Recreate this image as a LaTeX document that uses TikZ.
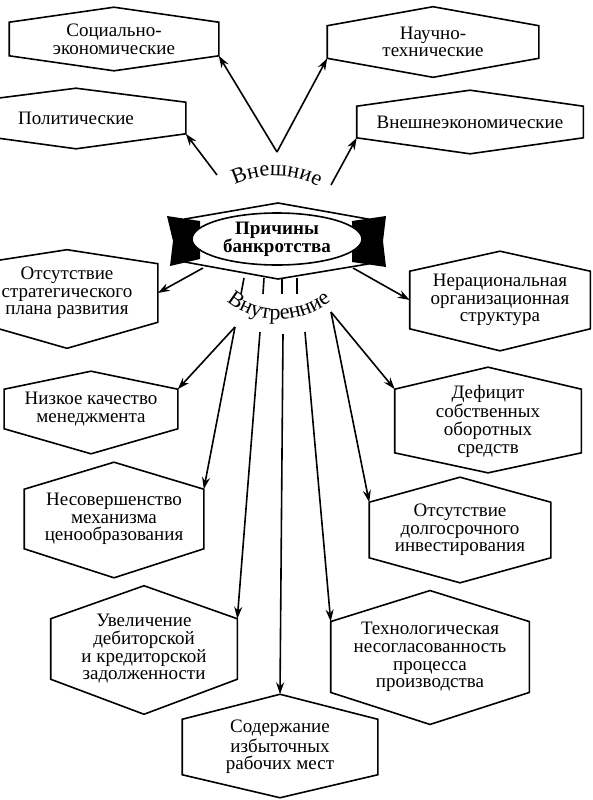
\documentclass[tikz,border=0pt]{standalone}
\usepackage{fontspec}
\setmainfont{Liberation Serif}
\usetikzlibrary{arrows.meta,shapes.geometric,calc,decorations.text}
\tikzset{
  cause/.style={align=center, inner sep=0pt, font=\fontsize{9.5}{8.8}\selectfont},
  >={Stealth[length=6pt,width=4pt]}
}
\begin{document}
\begin{tikzpicture}[x=0.5pt,y=-0.5pt,line width=0.8pt]
\useasboundingbox (0,0) rectangle (593,800);
\node[cause, minimum width=104pt, minimum height=16pt] (soc) at (114,39) {Социально-\\экономические};
\node[cause, minimum width=109pt, minimum height=15pt] (pol) at (76,118) {Политические};
\node[cause, minimum width=105pt, minimum height=15.5pt] (nauch) at (433,42) {Научно-\\технические};
\node[cause, minimum width=112.5pt, minimum height=15pt] (vnesh) at (470,122) {Внешнеэкономические};
\node[cause, minimum width=90pt, minimum height=28.5pt] (strat) at (67,293) {Отсутствие\\стратегического\\плана развития};
\node[cause, minimum width=86pt, minimum height=19pt] (nizk) at (91,409) {Низкое качество\\менеджмента};
\node[cause, minimum width=89pt, minimum height=29pt] (nesov) at (114,519) {Несовершенство\\механизма\\ценообразования};
\node[cause, minimum width=92.5pt, inner ysep=-2.5pt] (uvel) at (144,649) {Увеличение\\дебиторской\\и кредиторской\\задолженности};
\node[cause, minimum width=97pt, minimum height=25pt] (soder) at (280,747) {Содержание\\избыточных\\рабочих мест};
\node[cause, minimum width=89.5pt, minimum height=28pt] (neraz) at (500,300) {Нерациональная\\организационная\\структура};
\node[cause, minimum width=92.5pt, inner ysep=-2.5pt] (defic) at (488,421) {Дефицит\\собственных\\оборотных\\средств};
\node[cause, minimum width=90pt, minimum height=27pt] (dolg) at (460,530) {Отсутствие\\долгосрочного\\инвестирования};
\node[cause, minimum width=98.5pt, minimum height=33.5pt] (tehn) at (430,657) {Технологическая\\несогласованность\\процесса\\производства};
\foreach \n/\pa/\pb in {soc/15/15, pol/14/15, nauch/19/19, vnesh/16/16, strat/14/26, nizk/18/25, nesov/27/29, uvel/33/35, soder/25/23, neraz/20/22, defic/22/20, dolg/25/25, tehn/31/32}
  \draw (\n.south west) -- (\n.north west) -- ($(\n.north)-(0,\pa)$) -- (\n.north east)
    -- (\n.south east) -- ($(\n.south)+(0,\pb)$) -- cycle;

\draw[fill=white] (185,219) -- (278,203) -- (368,219) -- (368,264) -- (278,279) -- (185,262) -- cycle;
\fill (167,216) -- (200,221) -- (200,259) -- (170,266) -- (173,241) -- cycle;
\fill (352,221) -- (386,216) -- (383,241) -- (386,267) -- (352,262) -- cycle;
\node[draw, fill=white, ellipse, inner sep=0pt, minimum width=85pt, minimum height=26pt, align=center,
  font=\bfseries\fontsize{9.5}{9}\selectfont] (prich) at (277,239) {Причины\\банкротства};

\path[decorate, decoration={text along path, text align=center,
  text={|\fontsize{11}{11}\selectfont|Внешние}}] (226,190) .. controls (255,170) and (300,172) .. (327,192);
\path[decorate, decoration={text along path, text align=center,
  text={|\fontsize{11}{11}\selectfont|Внутренние}}] (222,297) .. controls (250,326) and (302,328) .. (336,297);

\coordinate (vn) at (277,152);
\coordinate (vl) at (217,175);
\coordinate (vr) at (331,185);
\coordinate (bl) at (203,268);
\coordinate (br) at (353,268);
\coordinate (il) at (235,327);
\coordinate (i1) at (260,332);
\coordinate (i2) at (283,334);
\coordinate (i3) at (305,332);
\coordinate (ir) at (331,312);
\coordinate (sodtop) at ($(soder.north)-(0,25)$);
\foreach \a/\b in {vl/pol.south east, vn/soc.south east, vn/nauch.south west, vr/vnesh.south west,
  bl/strat.east, br/neraz.west, il/nizk.north east, il/nesov.north east, i1/uvel.north east,
  i2/sodtop, i3/tehn.north west, ir/defic.north west, ir/dolg.north west}
  \draw[->] (\a) -- (\b);
\foreach \a/\b in {244/241, 264/263, 282/282, 297/297}
  \draw (\a,278) -- (\b,294);
\end{tikzpicture}
\end{document}
